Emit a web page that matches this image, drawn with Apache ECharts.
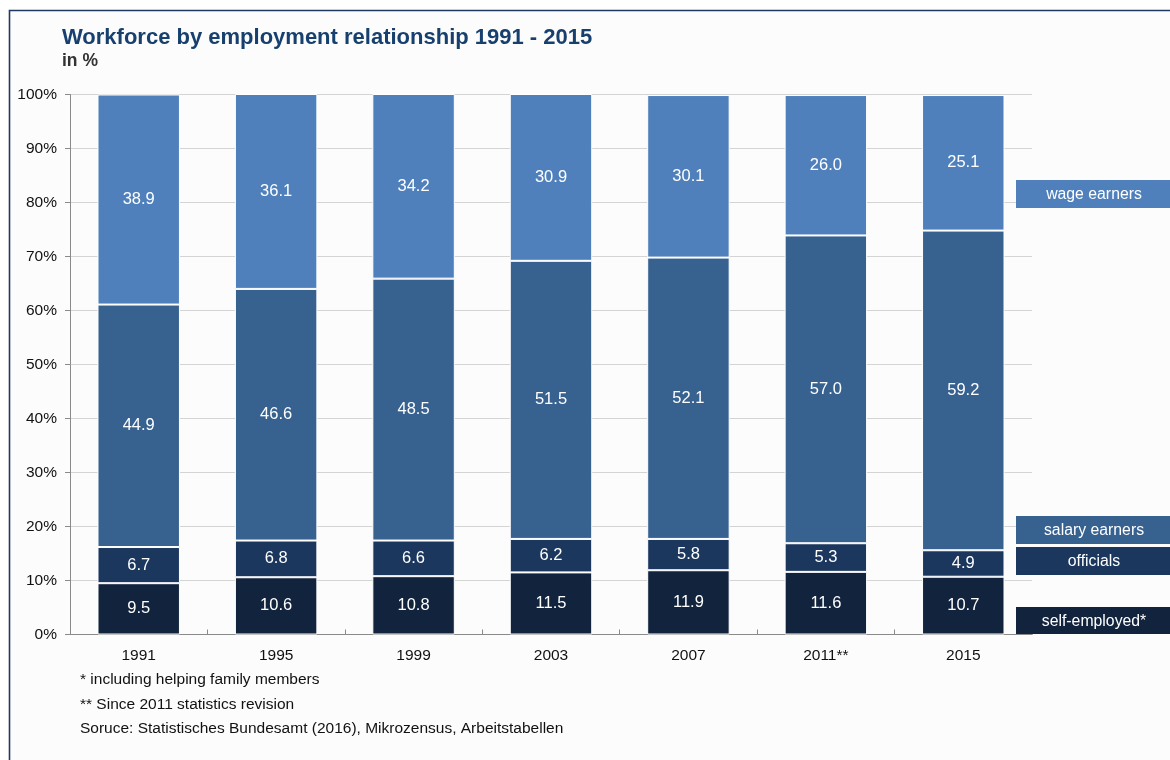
<!DOCTYPE html>
<html>
<head>
<meta charset="utf-8">
<script src="https://cdn.jsdelivr.net/npm/echarts@6/dist/echarts.min.js"></script>
<style>
html,body{margin:0;padding:0;background:#fff;}
#c{width:1170px;height:760px;}
</style>
</head>
<body>
<div id="c"></div>
<script>
const categories = ['1991','1995','1999','2003','2007','2011**','2015'];
const selfEmployed = [9.5,10.6,10.8,11.5,11.9,11.6,10.7];
const officials = [6.7,6.8,6.6,6.2,5.8,5.3,4.9];
const salaryEarners = [44.9,46.6,48.5,51.5,52.1,57.0,59.2];
const wageEarners = [38.9,36.1,34.2,30.9,30.1,26.0,25.1];
const seriesNames = ['self-employed*','officials','salary earners','wage earners'];
const footnotes = ['* including helping family members','** Since 2011 statistics revision','Soruce: Statistisches Bundesamt (2016), Mikrozensus, Arbeitstabellen'];
const titleText = 'Workforce by employment relationship 1991 - 2015';
const subText = 'in %';

const colors = ['#12233d','#1b375e','#37618f','#4f80bc'];
const font = 'Liberation Sans, Arial, sans-serif';

const chart = echarts.init(document.getElementById('c'), null, {renderer:'canvas'});

function mkSeries(name, data, color){
  return {
    name, type:'bar', stack:'s', data,
    barCategoryGap:'40%',
    itemStyle:{color, borderColor:'#ffffff', borderWidth:1},
    label:{show:true, position:'inside', color:'#fff', fontFamily:font, fontSize:16.5,
      formatter:p=>p.value.toFixed(1)},
    emphasis:{disabled:true}
  };
}
const seriesData = [selfEmployed, officials, salaryEarners, wageEarners];

// right side label boxes: [seriesIndex, top, bottom]
const boxes = [[3,180,208],[2,516,544],[1,547,575],[0,607,634]];
const graphics = [
  {type:'rect', shape:{x:9.5,y:10.5,width:1200,height:800}, style:{fill:'#fcfcfc', stroke:'#1f3a60', lineWidth:1.6}, z:-10, silent:true}
];
boxes.forEach(b=>{
  graphics.push({type:'rect', shape:{x:1016,y:b[1],width:160,height:b[2]-b[1]}, style:{fill:colors[b[0]]}, z:10, silent:true});
  graphics.push({type:'text', x:1094, y:(b[1]+b[2])/2+1, style:{text:seriesNames[b[0]], fill:'#fff', font:'15.8px '+font, textAlign:'center', textVerticalAlign:'middle'}, z:11, silent:true});
});
footnotes.forEach((t,i)=>{
  graphics.push({type:'text', left:80, top:672+i*24.5, style:{text:t, fill:'#111', font:'15.5px '+font}, silent:true});
});

chart.setOption({
  animation:false,
  backgroundColor:'#ffffff',
  title:{text:titleText, subtext:subText, left:57, top:22, itemGap:3,
    textStyle:{color:'#17406f', fontFamily:font, fontSize:22, fontWeight:'bold'},
    subtextStyle:{color:'#333', fontFamily:font, fontSize:17.5, fontWeight:'bold'}},
  grid:{left:70, right:138, top:94.5, height:540, containLabel:false},
  xAxis:{type:'category', data:categories,
    axisLine:{lineStyle:{color:'#8a8a8a', width:1}},
    axisTick:{show:true, inside:true, length:5, lineStyle:{color:'#8a8a8a'}},
    axisLabel:{color:'#111', fontFamily:font, fontSize:15.5, margin:13}},
  yAxis:{type:'value', min:0, max:100, interval:10,
    axisLine:{show:true, lineStyle:{color:'#8a8a8a'}},
    axisTick:{show:true, length:5, lineStyle:{color:'#8a8a8a'}},
    splitLine:{lineStyle:{color:'#d4d4d4'}},
    axisLabel:{color:'#111', fontFamily:font, fontSize:15.5, margin:13, formatter:v=>v+'%'}},
  series: seriesData.map((d,i)=>mkSeries(seriesNames[i], d, colors[i])),
  graphic: graphics
});
</script>
</body>
</html>
